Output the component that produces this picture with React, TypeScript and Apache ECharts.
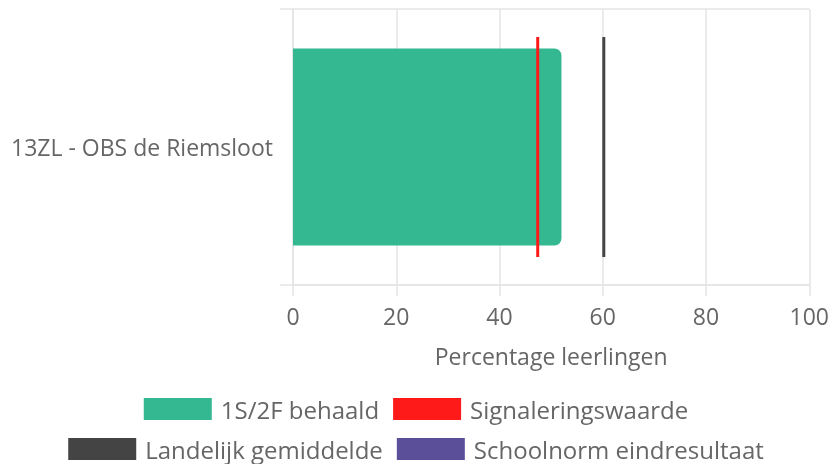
import React, { useEffect, useRef } from "react";
import * as echarts from "echarts";

const categories = ["13ZL - OBS de Riemsloot"];
const behaald = [52];
const signalering = [47.4];
const landelijk = [60.2];
const xTicks = { min: 0, max: 100, interval: 20 };
const seriesNames = ["1S/2F behaald", "Signaleringswaarde", "Landelijk gemiddelde", "Schoolnorm eindresultaat"];

const FONT = "Open Sans";
const FS = 23;
const LFS = 24;
const TXT = "#666666";
const GRID = "#e5e5e5";

export default function App() {
  const ref = useRef<HTMLDivElement>(null);
  useEffect(() => {
    if (!ref.current) return;
    const chart = echarts.init(ref.current, null, { renderer: "svg" });
    const legendBase = {
      left: "center",
      icon: "rect",
      itemWidth: 68,
      itemHeight: 22,
      itemGap: 14,
      padding: 0,
      textStyle: { color: TXT, fontSize: LFS, lineHeight: 24, fontFamily: FONT, padding: [0, 0, 0, 4] },
    };
    chart.setOption({
      animation: false,
      textStyle: { fontFamily: FONT },
      grid: { left: 293, right: 22, top: 9, bottom: 179 },
      xAxis: {
        type: "value",
        min: xTicks.min,
        max: xTicks.max,
        interval: xTicks.interval,
        name: "Percentage leerlingen",
        nameLocation: "middle",
        nameGap: 59,
        nameTextStyle: { color: TXT, fontSize: FS, fontFamily: FONT },
        axisLine: { show: true, lineStyle: { color: GRID, width: 1.5 } },
        axisTick: { show: true, length: 11, lineStyle: { color: GRID, width: 1.5 } },
        splitLine: { show: true, lineStyle: { color: GRID, width: 1.5 } },
        axisLabel: { color: TXT, fontSize: FS, fontFamily: FONT, margin: 19 },
      },
      yAxis: {
        type: "category",
        data: categories,
        axisLine: { show: true, lineStyle: { color: GRID, width: 1.5 } },
        axisTick: { show: true, length: 13, lineStyle: { color: GRID, width: 1.5 } },
        splitLine: { show: true, lineStyle: { color: GRID, width: 1.5 } },
        axisLabel: { color: TXT, fontSize: FS, fontFamily: FONT, margin: 20 },
      },
      legend: [
        { ...legendBase, data: seriesNames.slice(0, 2), top: 397 },
        { ...legendBase, data: seriesNames.slice(2, 4), top: 437 },
      ],
      series: [
        {
          name: seriesNames[0],
          type: "bar",
          data: behaald,
          barWidth: 197,
          itemStyle: { color: "#33b891", borderRadius: [0, 7, 7, 0] },
        },
        {
          name: seriesNames[1],
          type: "scatter",
          data: signalering.map((v, i) => [v, categories[i]]),
          symbol: "rect",
          symbolSize: [3, 220],
          itemStyle: { color: "#ff1a1a", opacity: 1 },
          z: 4,
        },
        {
          name: seriesNames[2],
          type: "scatter",
          data: landelijk.map((v, i) => [v, categories[i]]),
          symbol: "rect",
          symbolSize: [3, 220],
          itemStyle: { color: "#444444", opacity: 1 },
          z: 4,
        },
        {
          name: seriesNames[3],
          type: "scatter",
          data: [],
          itemStyle: { color: "#5b4f99", opacity: 1 },
        },
      ],
    });
    return () => chart.dispose();
  }, []);
  return <div ref={ref} style={{ position: "fixed", left: 0, top: 0, width: 832, height: 464 }} />;
}
